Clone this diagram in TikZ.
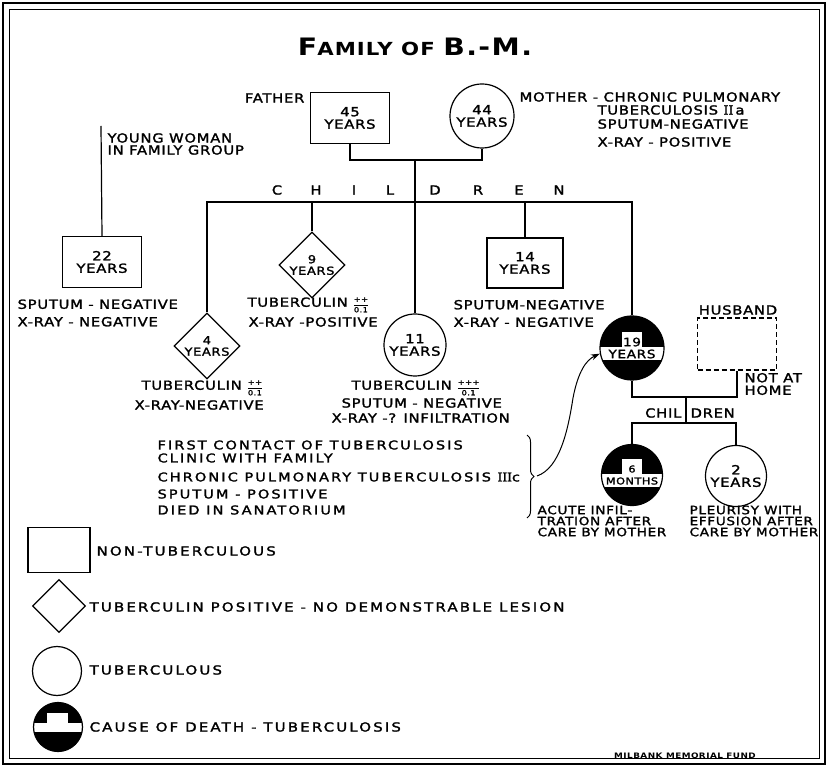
\documentclass[tikz,border=0pt]{standalone}
\usepackage{fontspec}
\setmainfont{DejaVu Sans}[FakeStretch=1.18, LetterSpace=6, UprightFeatures={FakeBold=1.8}]
\newfontfamily\keyfont{DejaVu Sans}[FakeStretch=1.2, LetterSpace=17, FakeBold=1.8]
\newfontfamily\numfont{DejaVu Serif}[FakeBold=1.8]
\usetikzlibrary{shapes.geometric, decorations.pathreplacing, arrows.meta}

\newcommand{\tuberfrac}[1]{\hspace{6pt}{\fontsize{7}{7}\selectfont\setlength{\tabcolsep}{0pt}\renewcommand{\arraystretch}{1.45}\begin{tabular}{c}#1\\\hline 0.1\end{tabular}}}

\tikzset{
  every node/.style={font=\fontsize{12.5}{12.5}\selectfont, inner sep=1pt},
  nontb/.style={draw, rectangle, line width=1.2pt, minimum width=79, minimum height=51, align=center},
  tbpos/.style={draw, diamond, line width=1.2pt, minimum size=66, inner sep=0pt},
  tb/.style={draw, circle, line width=1.2pt, minimum size=62, inner sep=0pt, align=center},
  dead/.style={tb, fill=black, font=\fontsize{11.5}{12}\selectfont, path picture={
      \fill[white] ([yshift=1pt]path picture bounding box.west) rectangle ([yshift=-12pt]path picture bounding box.east);
      \fill[white] ([xshift=-10pt,yshift=0pt]path picture bounding box.center) rectangle ([xshift=10pt,yshift=16pt]path picture bounding box.center);}},
  deadkey/.style={tb, fill=black, path picture={
      \fill[white] ([yshift=4pt]path picture bounding box.west) rectangle ([yshift=-5pt]path picture bounding box.east);
      \fill[white] ([xshift=-11pt,yshift=3pt]path picture bounding box.center) rectangle ([xshift=10pt,yshift=14pt]path picture bounding box.center);}},
  info/.style={anchor=west, align=left, font=\fontsize{12.5}{17.5}\selectfont},
  keylab/.style={anchor=west, font=\keyfont\fontsize{12.5}{12.5}\selectfont},
  contactlab/.style={anchor=west, font=\keyfont\fontsize{12.1}{12.5}\selectfont},
}

\begin{document}
\begin{tikzpicture}[x=1pt, y=-1pt, line width=1.2pt]
    \useasboundingbox (0,0) rectangle (828,767);
    \draw[line width=2.4pt] (3,3) rectangle (825,764);
    \draw[line width=0.6pt] (9,9) rectangle (819,758);

    \node (title) at (415,47) {\bfseries{\fontsize{24}{24}\selectfont F}{\fontsize{18}{18}\selectfont AMILY OF }{\fontsize{24}{24}\selectfont B.-M.}};

    % parents
    \node[nontb] (father) at (350,118) {45\\YEARS};
    \node[tb, minimum size=64] (mother) at (482,116) {44\\YEARS};
    \node[anchor=east] (fatherlab) at (306,98) {FATHER};
    \node[info] (motherlab) at (518,97) {MOTHER - CHRONIC PULMONARY};
    \node[info] (motherlab2) at (596,110) {TUBERCULOSIS {\numfont II}\,a};
    \node[info] (motherlab3) at (596,124) {SPUTUM-NEGATIVE};
    \node[info] (motherlab4) at (596,142) {X-RAY - POSITIVE};

    \coordinate (par) at (415,160);
    \coordinate (kl) at (415,202);
    \draw (father.south) |- (par) -| (mother.south);

    % children
    \node[tbpos, label={[align=center, font=\fontsize{11}{11.5}\selectfont]center:4\\YEARS}] (kid4) at (207,346) {};
    \node[tbpos, label={[align=center, font=\fontsize{11}{11.5}\selectfont]center:9\\YEARS}] (kid9) at (312,265) {};
    \node[tb] (kid11) at (415,345) {11\\YEARS};
    \node[nontb, minimum width=76, minimum height=50] (kid14) at (525,263) {14\\YEARS};
    \node[dead, minimum size=64] (kid19) at (632,348) {19\\YEARS};

    \draw (par) -- (kid11.north);
    \draw (kid4.north) |- (kl) -| (kid19.north);
    \draw (kid9.north) -- (kid9.north |- kl);
    \draw (kid14.north) -- (kid14.north |- kl);

    \foreach \ch/\x in {C/277,H/316,I/354,L/390,D/435,R/478,E/519,N/559}
        \node (ch\ch) at (\x,190) {\ch};

    \node[info] (kid4lab) at (140,388) {TUBERCULIN\tuberfrac{++}};
    \node[info] (kid4lab2) at (133,405) {X-RAY-NEGATIVE};
    \node[info] (kid9lab) at (246,305) {TUBERCULIN\tuberfrac{++}};
    \node[info] (kid9lab2) at (247,322) {X-RAY -POSITIVE};
    \node[info] (kid11lab) at (350,388) {TUBERCULIN\tuberfrac{+++}};
    \node[info] (kid11lab2) at (340,403) {SPUTUM - NEGATIVE};
    \node[info] (kid11lab3) at (330,418) {X-RAY -? INFILTRATION};
    \node[info] (kid14lab) at (452,313.5) {SPUTUM-NEGATIVE\\X-RAY - NEGATIVE};

    % young woman
    \node[nontb] (woman) at (102,262) {22\\YEARS};
    \coordinate (womantop) at (101,126);
    \draw (woman.north) -- (womantop);
    \node[info, font=\fontsize{12.5}{12}\selectfont] (womanlab) at (106,144) {YOUNG WOMAN\\IN FAMILY GROUP};
    \node[info] (womanlab2) at (16,313) {SPUTUM - NEGATIVE\\X-RAY - NEGATIVE};

    % 19 years, husband and her children
    \node[draw, dash pattern=on 5pt off 3pt, minimum width=79, minimum height=52] (husband) at (737,344) {};
    \node (husbandlab) at (738,310) {HUSBAND};
    \node[info, font=\fontsize{12.5}{12.5}\selectfont] (husbandlab2) at (743,384) {NOT AT\\HOME};
    \coordinate (par2) at (686,397);
    \coordinate (sub) at (686,423);
    \draw (kid19.south) |- (par2) -| (husband.south);
    \draw (par2) -- (sub);
    \node[anchor=east] (chil) at (683,413) {CHIL};
    \node[anchor=west] (dren) at (689,413) {DREN};

    \node[dead, minimum size=61, font=\fontsize{9.5}{12}\selectfont] (baby6) at (632,475) {6\\MONTHS};
    \node[tb, minimum size=61] (kid2) at (736,476) {2\\YEARS};
    \draw (baby6.north) |- (sub) -| (kid2.north);
    \node[info, font=\fontsize{11.5}{11}\selectfont] (baby6lab) at (536,521) {ACUTE INFIL-\\TRATION AFTER\\CARE BY MOTHER};
    \node[info, font=\fontsize{11.5}{11}\selectfont] (kid2lab) at (688,521) {PLEURISY WITH\\EFFUSION AFTER\\CARE BY MOTHER};

    % first contact
    \node[contactlab] (contact) at (156,445) {FIRST CONTACT OF TUBERCULOSIS};
    \node[contactlab] (contact2) at (156,458) {CLINIC WITH FAMILY};
    \node[contactlab] (contact3) at (156,477) {CHRONIC PULMONARY TUBERCULOSIS {\numfont III}c};
    \node[contactlab] (contact4) at (156,494) {SPUTUM - POSITIVE};
    \node[contactlab] (contact5) at (156,510) {DIED IN SANATORIUM};
    \coordinate (brtop) at (527,435);
    \coordinate (brbot) at (527,518);
    \coordinate (brtip) at (537,476);
    \draw[decorate, decoration={brace, amplitude=7pt}, line width=1pt] (brtop) -- (brbot);
    \draw[-{Stealth[length=9pt,width=6pt]}, line width=1pt] (brtip) .. controls (560,468) and (568,430) .. (573,398) .. controls (578,372) and (586,360) .. (kid19.190);

    % key
    \node[nontb, minimum width=62, minimum height=45] (keybox) at (59,550) {};
    \node[tbpos, minimum size=53] (keydiam) at (59,606) {};
    \node[tb, minimum size=49] (keycirc) at (57,671) {};
    \node[deadkey, minimum size=49] (keydead) at (58,727) {};
    \node[keylab] (keyboxlab) at (95,551) {NON-TUBERCULOUS};
    \node[keylab] (keydiamlab) at (88,607) {TUBERCULIN POSITIVE - NO DEMONSTRABLE LESION};
    \node[keylab] (keycirclab) at (88,670) {TUBERCULOUS};
    \node[keylab] (keydeadlab) at (88,727) {CAUSE OF DEATH - TUBERCULOSIS};

    \node[font=\fontsize{7.5}{8}\selectfont\bfseries] (fund) at (685,756) {MILBANK MEMORIAL FUND};
\end{tikzpicture}
\end{document}
